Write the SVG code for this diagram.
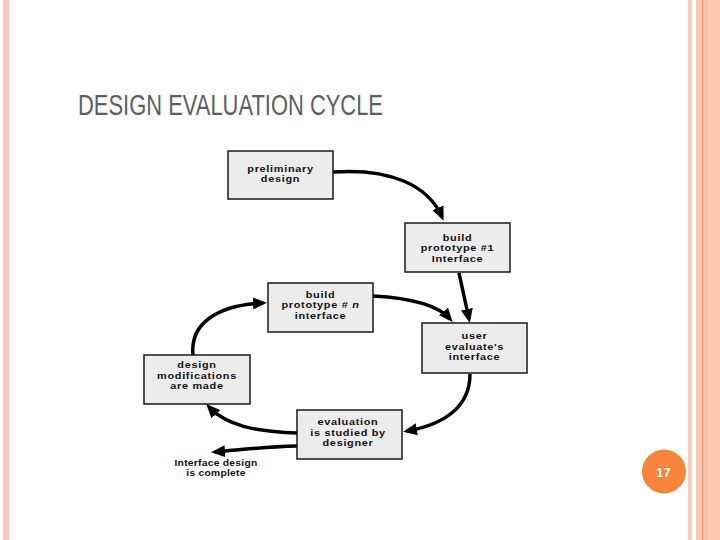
<svg xmlns="http://www.w3.org/2000/svg" width="720" height="540" viewBox="0 0 720 540">
<defs>
<style>
.box{fill:#ececec;stroke:#1a1a1a;stroke-width:1.5}
.lbl{font-family:"Liberation Sans",Arial,sans-serif;font-weight:bold;font-size:9.5px;letter-spacing:0.6px;fill:#111;text-anchor:middle}
.sm{font-size:9px;letter-spacing:0.2px}
.con{fill:none;stroke:#000;stroke-width:3.5;marker-end:url(#ah)}
</style>
<marker id="ah" markerUnits="userSpaceOnUse" markerWidth="14" markerHeight="12" refX="10" refY="6" orient="auto">
<path d="M0,0 L14,6 L0,12 z" fill="#000"/>
</marker>
</defs>
<rect width="720" height="540" fill="#fff"/>
<rect x="3" y="0" width="6" height="540" fill="#f9c8b4"/>
<rect x="688" y="0" width="4" height="540" fill="#f9cdb9"/>
<rect x="696" y="0" width="24" height="540" fill="#fbc8b2"/>
<rect x="703" y="0" width="5" height="540" fill="#f8bfa5"/>
<rect x="702" y="0" width="1.2" height="540" fill="#e9996f"/>
<text x="78" y="115" font-family="'Liberation Sans',Arial,sans-serif" font-size="30" fill="#5a5f66" textLength="305" lengthAdjust="spacingAndGlyphs">DESIGN EVALUATION CYCLE</text>
<g id="connectors">
<path class="con" d="M333,172 C390,168 428,185 442,217"/>
<path class="con" d="M459,273 L469,319"/>
<path class="con" d="M373,296 C410,298 438,305 450,319"/>
<path class="con" d="M470,374 C470,405 447,424 407,431"/>
<path class="con" d="M297,433 C255,432 226,425 209,407"/>
<path class="con" d="M193,355 C190,325 215,305 263,303"/>
<path class="con" d="M297,446 C260,447 240,450 215,452"/>
</g>
<g id="n1"><rect class="box" x="228" y="151" width="105" height="48"/>
<g transform="translate(280.5,0) scale(1.15,1)"><text class="lbl" x="0" y="172">preliminary</text><text class="lbl" x="0" y="182.5">design</text></g></g>
<g id="n2"><rect class="box" x="405" y="223" width="105" height="49"/>
<g transform="translate(457.5,0) scale(1.15,1)"><text class="lbl" x="0" y="241">build</text><text class="lbl" x="0" y="251.5">prototype #1</text><text class="lbl" x="0" y="262">Interface</text></g></g>
<g id="n3"><rect class="box" x="268" y="283" width="105" height="49"/>
<g transform="translate(320.5,0) scale(1.15,1)"><text class="lbl" x="0" y="298">build</text><text class="lbl" x="0" y="308.5">prototype # <tspan font-style="italic">n</tspan></text><text class="lbl" x="0" y="319">interface</text></g></g>
<g id="n4"><rect class="box" x="422" y="323" width="105" height="50"/>
<g transform="translate(474.5,0) scale(1.15,1)"><text class="lbl" x="0" y="339.5">user</text><text class="lbl" x="0" y="350">evaluate's</text><text class="lbl" x="0" y="360.5">interface</text></g></g>
<g id="n5"><rect class="box" x="144" y="355" width="106" height="49"/>
<g transform="translate(197,0) scale(1.15,1)"><text class="lbl" x="0" y="368.5">design</text><text class="lbl" x="0" y="379">modifications</text><text class="lbl" x="0" y="389.5">are made</text></g></g>
<g id="n6"><rect class="box" x="297" y="410" width="105" height="49"/>
<g transform="translate(348,0) scale(1.15,1)"><text class="lbl" x="0" y="425.5">evaluation</text><text class="lbl" x="0" y="436">is studied by</text><text class="lbl" x="0" y="446.5">designer</text></g></g>
<g id="n7"><g transform="translate(216,0) scale(1.15,1)"><text class="lbl sm" x="0" y="466">Interface design</text><text class="lbl sm" x="0" y="476.5">is complete</text></g></g>
<g id="page"><circle cx="664" cy="471.5" r="22" fill="#f7843a"/>
<text x="663.5" y="476.5" font-family="'Liberation Sans',Arial,sans-serif" font-weight="bold" font-size="13" fill="#fff" text-anchor="middle">17</text></g>
</svg>
